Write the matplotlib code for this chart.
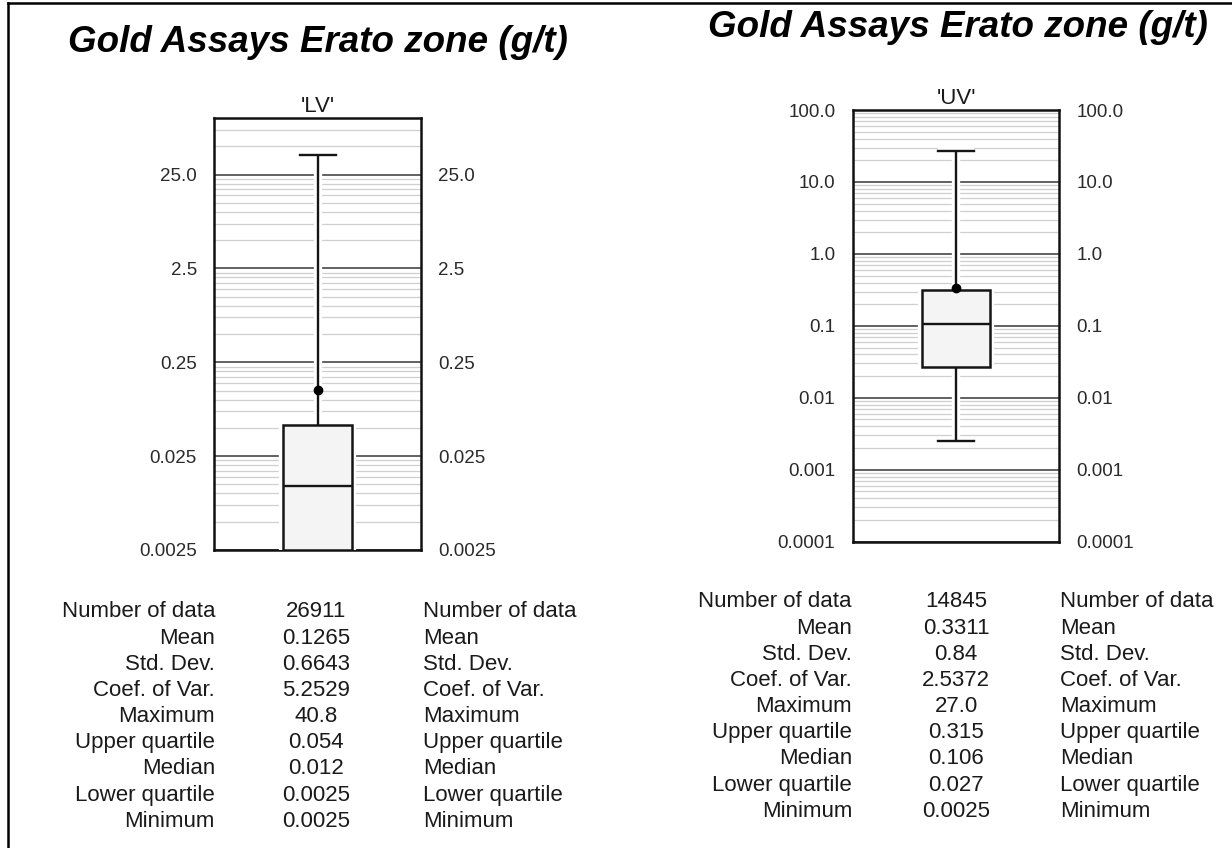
import matplotlib
matplotlib.use('Agg')
import matplotlib.pyplot as plt
from matplotlib.lines import Line2D
from matplotlib.ticker import NullFormatter

plt.rcParams['font.family'] = ['Liberation Sans', 'DejaVu Sans']

# summary statistics
stat_names = ['Number of data', 'Mean', 'Std. Dev.', 'Coef. of Var.', 'Maximum',
              'Upper quartile', 'Median', 'Lower quartile', 'Minimum']
lv_stats = [26911, 0.1265, 0.6643, 5.2529, 40.8, 0.054, 0.012, 0.0025, 0.0025]
uv_stats = [14845, 0.3311, 0.84, 2.5372, 27.0, 0.315, 0.106, 0.027, 0.0025]

lv_ticks = [0.0025, 0.025, 0.25, 2.5, 25.0]
lv_labels = ['0.0025', '0.025', '0.25', '2.5', '25.0']
uv_ticks = [0.0001, 0.001, 0.01, 0.1, 1.0, 10.0, 100.0]
uv_labels = ['0.0001', '0.001', '0.01', '0.1', '1.0', '10.0', '100.0']

title = 'Gold Assays Erato zone (g/t)'
W, H = 1232, 848
fig = plt.figure(figsize=(W / 100, H / 100), dpi=100)


def panel(box, name, vals, ticks, labels, ylim, title_xy, table):
    x0, y0, x1, y1 = box
    ax = fig.add_axes([x0 / W, 1 - y1 / H, (x1 - x0) / W, (y1 - y0) / H])
    ax.set_yscale('log')
    st = dict(med=vals[6], q1=vals[7], q3=vals[5], whislo=vals[8],
              whishi=vals[4], mean=vals[1], fliers=[])

    # white halo layer so grid lines break around the box and whiskers
    halo = ax.bxp([st], positions=[0], widths=1.0, capwidths=0.52, patch_artist=True,
                  showmeans=False,
                  boxprops=dict(facecolor='white', edgecolor='white', linewidth=6),
                  whiskerprops=dict(color='white', linewidth=6, solid_capstyle='butt'),
                  capprops=dict(color='white', linewidth=6, solid_capstyle='butt'),
                  medianprops=dict(color='white', linewidth=1))
    for k in halo:
        for a in halo[k]:
            a.set_zorder(2.6)

    art = ax.bxp([st], positions=[0], widths=1.0, capwidths=0.52, patch_artist=True,
                 showmeans=True,
                 boxprops=dict(facecolor='#f4f4f4', edgecolor='#151515', linewidth=1.8),
                 whiskerprops=dict(color='#151515', linewidth=1.7, solid_capstyle='butt'),
                 capprops=dict(color='#151515', linewidth=1.7),
                 medianprops=dict(color='#151515', linewidth=1.7),
                 meanprops=dict(marker='o', markerfacecolor='black',
                                markeredgecolor='black', markersize=6))
    for a in art['whiskers'] + art['caps']:
        a.set_zorder(3)
    for a in art['boxes']:
        a.set_zorder(4)
    for a in art['medians']:
        a.set_zorder(5)
    for a in art['means']:
        a.set_zorder(6)

    ax.set_xticks([])
    ax.set_yticks(ticks, labels)
    ax.set_yticks([t * k for t in ticks for k in range(2, 10)], minor=True)
    ax.yaxis.set_minor_formatter(NullFormatter())
    ax.set_xlim(-1.5, 1.5)
    ax.set_ylim(*ylim)
    ax.set_axisbelow(True)
    ax.grid(True, which='major', axis='y', color='#555555', linewidth=1.3)
    ax.grid(True, which='minor', axis='y', color='#cfcfcf', linewidth=0.9)
    ax.tick_params(axis='y', which='both', left=False, right=False,
                   labelleft=True, labelright=True, labelsize=13.5, pad=9,
                   labelcolor='#2a2a2a')
    for s in ax.spines.values():
        s.set_linewidth(1.8)
        s.set_color('#111111')
    ax.set_title(name, fontsize=16, pad=4.5, color='#1a1a1a')

    fig.text(title_xy[0] / W, 1 - title_xy[1] / H, title, ha='center', va='baseline',
             fontsize=26.5, fontweight='bold', fontstyle='italic', color='black')

    xl, xv, xr, yb, step = table
    for i, (nm, v) in enumerate(zip(stat_names, vals)):
        y = 1 - (yb + i * step) / H
        fig.text(xl / W, y, nm, ha='right', va='baseline', fontsize=16, color='#1a1a1a')
        fig.text(xv / W, y, str(v), ha='center', va='baseline', fontsize=16, color='#1a1a1a')
        fig.text(xr / W, y, nm, ha='left', va='baseline', fontsize=16, color='#1a1a1a')
    return ax


panel((214.3, 118, 421, 550), "'LV'", lv_stats, lv_ticks, lv_labels, (0.0025, 100),
      (318, 51.7), (215, 316, 423, 617.3, 26.2))
panel((852.7, 110, 1059.3, 541.7), "'UV'", uv_stats, uv_ticks, uv_labels, (0.0001, 100),
      (958, 36.7), (852, 956, 1060, 607.3, 26.2))

# frame lines on the top and left edges of the image
fig.add_artist(Line2D([8 / W, 1], [1 - 3 / H, 1 - 3 / H], color='black', linewidth=1.8))
fig.add_artist(Line2D([8 / W, 8 / W], [0, 1 - 3 / H], color='black', linewidth=1.8))

fig.savefig('out.png', dpi=100, facecolor='white')
